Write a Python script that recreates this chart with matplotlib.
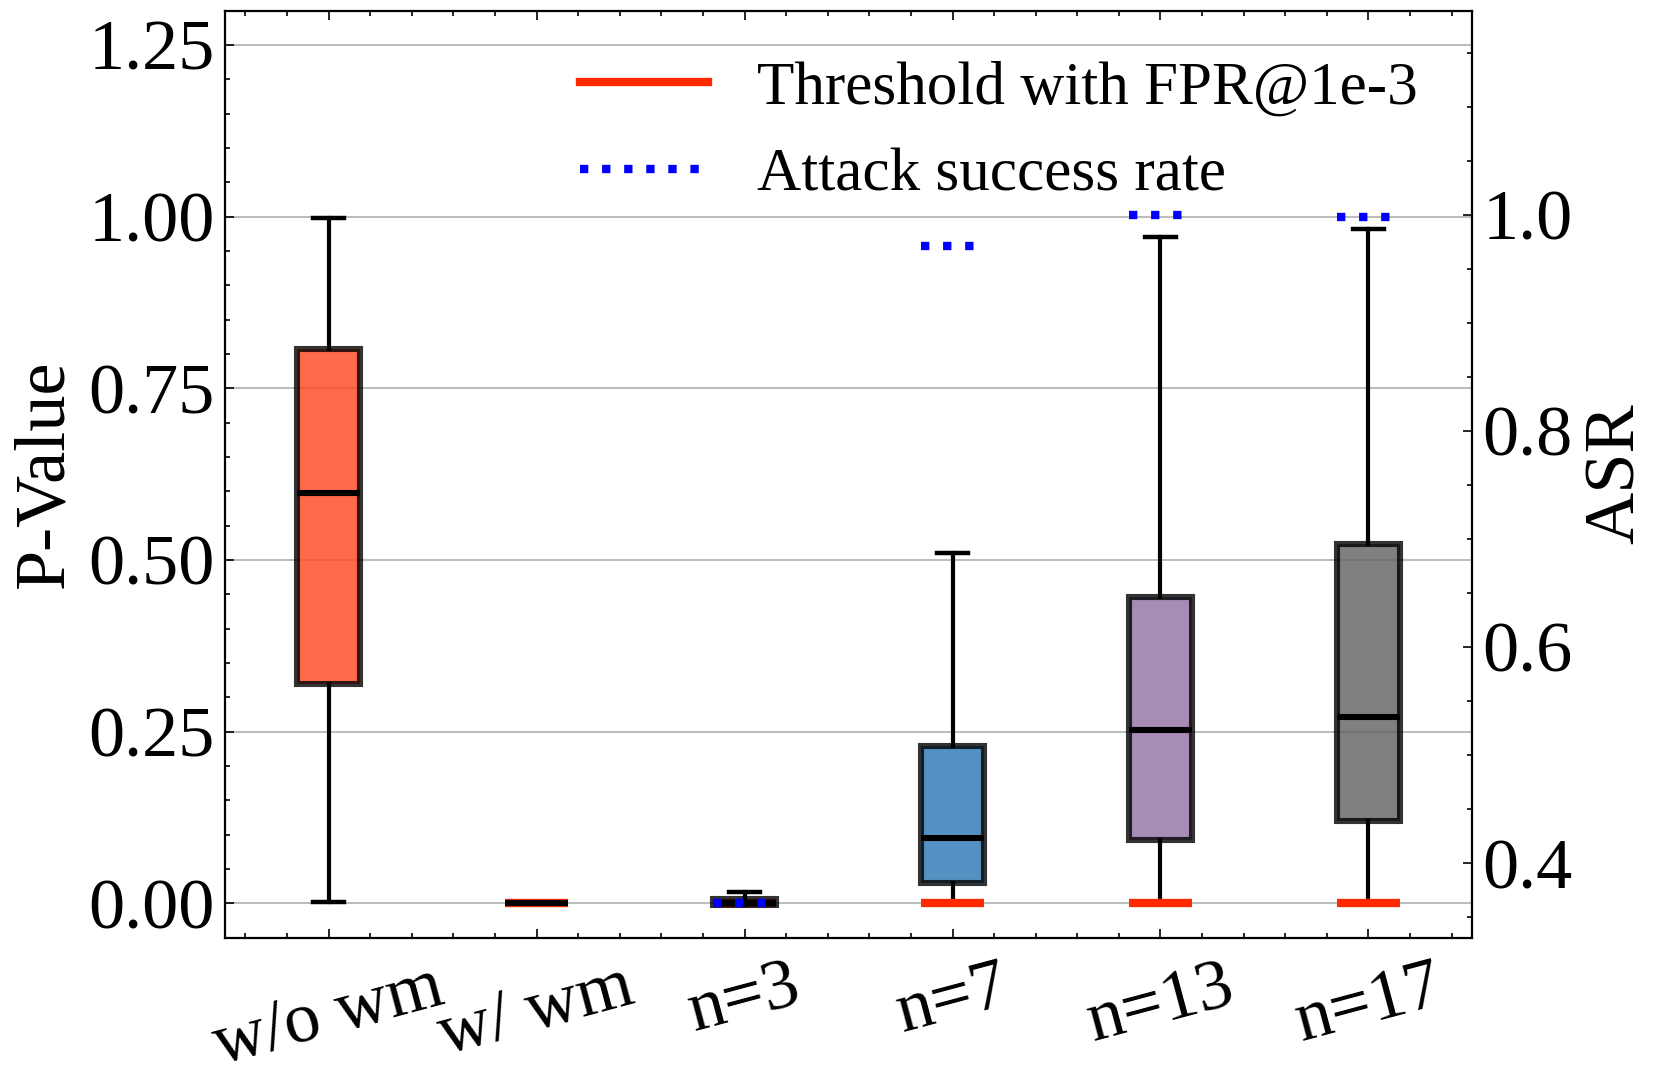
import numpy as np
import matplotlib
matplotlib.use("Agg")
import matplotlib.pyplot as plt
from matplotlib.lines import Line2D
from matplotlib.ticker import AutoMinorLocator

plt.rcParams['font.family'] = ['Liberation Serif', 'DejaVu Serif']
plt.rcParams['xtick.direction'] = 'in'
plt.rcParams['ytick.direction'] = 'in'

# box statistics (p-values)
labels = ['w/o wm', 'w/ wm', 'n=3', 'n=7', 'n=13', 'n=17']
whislo = [0.002, 0.0, 0.0, 0.0, 0.0, 0.0]
q1 = [0.320, 0.0, -0.002, 0.029, 0.092, 0.120]
med = [0.597, 0.0, 0.001, 0.095, 0.252, 0.271]
q3 = [0.807, 0.0, 0.006, 0.229, 0.446, 0.523]
whishi = [0.998, 0.0, 0.016, 0.510, 0.971, 0.982]
box_colors = ['#ff4520', '#ff4520', '#ff4520', '#2a74b3', '#9170a4', '#606060']

# threshold (FPR@1e-3) and attack success rate
thr_idx = [2, 3, 4, 5, 6]
thr_val = [0.001, 0.001, 0.001, 0.001, 0.001]
asr_idx = [3, 4, 5, 6]
asr_val = [0.363, 0.971, 1.0, 0.998]

pos = np.arange(1, len(labels) + 1)
stats = []
for i in range(len(labels)):
    stats.append(dict(label=labels[i], whislo=whislo[i], q1=q1[i], med=med[i],
                      q3=q3[i], whishi=whishi[i], fliers=[]))

fig = plt.figure(figsize=(8.305, 5.415), dpi=200)
ax = fig.add_axes([0.1352, 0.1343, 0.7513, 0.8559])
w = 0.3

# red threshold under the flat boxes, above the others
for i, v in zip(thr_idx, thr_val):
    z = 1 if q3[i - 1] < 0.05 else 4
    ax.hlines(v, i - w / 2, i + w / 2, color='#ff2a00', lw=3, zorder=z)

bp = ax.bxp(stats, positions=pos, widths=w, patch_artist=True, showfliers=False,
            boxprops=dict(linewidth=2.2, edgecolor='black', alpha=0.8),
            whiskerprops=dict(linewidth=1.5, color='black'),
            capprops=dict(linewidth=1.6, color='black'),
            medianprops=dict(linewidth=2.2, color='black'),
            zorder=2)
for patch, c in zip(bp['boxes'], box_colors):
    patch.set_facecolor(c)

ax.set_xlim(0.5, 6.5)
ax.set_ylim(-0.05, 1.3)
ax.set_yticks([0, 0.25, 0.5, 0.75, 1.0, 1.25])
ax.set_yticklabels(['0.00', '0.25', '0.50', '0.75', '1.00', '1.25'])
ax.set_xticks(pos)
ax.set_xticklabels(labels, rotation=15, ha='center')
ax.xaxis.set_minor_locator(AutoMinorLocator(5))
ax.yaxis.set_minor_locator(AutoMinorLocator(5))
ax.tick_params(axis='both', which='major', labelsize=26, length=3.2, width=0.6, top=True)
ax.tick_params(axis='both', which='minor', length=1.8, width=0.6, top=True)
ax.tick_params(axis='x', pad=6)
ax.set_ylabel('P-Value', fontsize=26, labelpad=4)
ax.yaxis.grid(True, color='#b0b0b0', lw=0.6, zorder=0)
ax.set_axisbelow(True)
for s in ax.spines.values():
    s.set_linewidth(0.7)

ax2 = ax.twinx()
for i, v in zip(asr_idx, asr_val):
    ax2.hlines(v, i - w / 2, i + w / 2, color='blue', lw=3, linestyles=':', zorder=5)
ax2.set_ylim(0.331, 1.189)
ax2.set_yticks([0.4, 0.6, 0.8, 1.0])
ax2.yaxis.set_minor_locator(AutoMinorLocator(4))
ax2.tick_params(axis='y', which='major', labelsize=26, length=3.2, width=0.6)
ax2.tick_params(axis='y', which='minor', length=1.8, width=0.6)
ax2.set_ylabel('ASR', fontsize=26, labelpad=4)

handles = [Line2D([], [], color='#ff2a00', lw=3),
           Line2D([], [], color='blue', lw=3, ls=':')]
ax2.legend(handles, ['Threshold with FPR@1e-3', 'Attack success rate'],
           loc='upper right', frameon=False, fontsize=22, handlelength=2.1,
           bbox_to_anchor=(1.0, 1.005))

fig.savefig('out.png', dpi=200)
